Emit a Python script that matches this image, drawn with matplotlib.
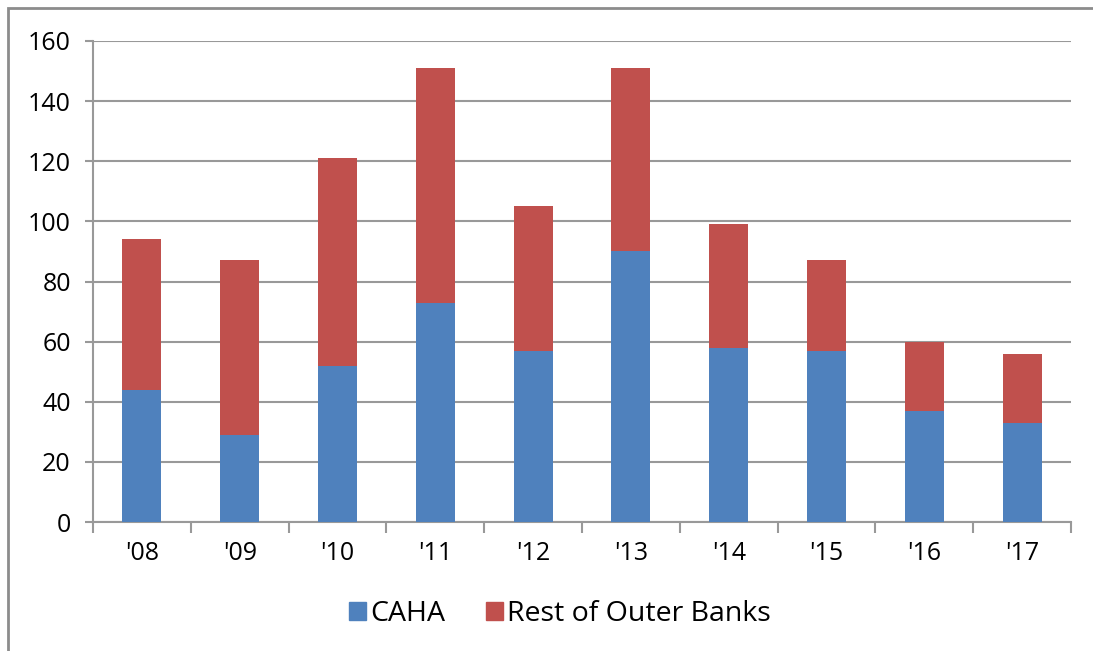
import matplotlib.pyplot as plt
from matplotlib.patches import Rectangle, Patch
import numpy as np

plt.rcParams['font.family'] = ['Open Sans', 'DejaVu Sans']

years = ["'08", "'09", "'10", "'11", "'12", "'13", "'14", "'15", "'16", "'17"]
caha = [44, 29, 52, 73, 57, 90, 58, 57, 37, 33]
rest = [50, 58, 69, 78, 48, 61, 41, 30, 23, 23]

blue = '#4F81BD'
red = '#C0504D'
grid = '#999999'

fig = plt.figure(figsize=(10.93, 6.51), dpi=100)
ax = fig.add_axes([93 / 1093, 1 - 522 / 651, (1071 - 93) / 1093, (522 - 41) / 651])

x = np.arange(len(years))
ax.bar(x, caha, width=0.4, color=blue, zorder=3)
ax.bar(x, rest, width=0.4, bottom=caha, color=red, zorder=3)

ax.set_xlim(-0.5, len(years) - 0.5)
ax.set_ylim(0, 160)
ax.set_yticks(range(0, 161, 20))
ax.yaxis.grid(True, color=grid, linewidth=1.5, zorder=0)
ax.set_axisbelow(True)

ax.set_xticks(x)
ax.set_xticklabels(years)
ax.set_xticks(np.arange(-0.5, len(years), 1), minor=True)
ax.tick_params(axis='x', which='major', length=0, pad=14, labelsize=18)
ax.tick_params(axis='x', which='minor', length=8, width=1.5, color=grid)
ax.tick_params(axis='y', length=6, width=1.5, color=grid, pad=10, labelsize=18)

for s in ['top', 'right']:
    ax.spines[s].set_visible(False)
for s in ['left', 'bottom']:
    ax.spines[s].set_color(grid)
    ax.spines[s].set_linewidth(1.5)

handles = [Patch(color=blue, label='CAHA'), Patch(color=red, label='Rest of Outer Banks')]
fig.legend(handles=handles, loc='center', bbox_to_anchor=(560 / 1093, 1 - 614 / 651),
           ncol=2, frameon=False, fontsize=20.5, handlelength=0.6, handleheight=0.6,
           handletextpad=0.15, columnspacing=1.4)

fig.patches.append(Rectangle((8 / 1093, -0.1), 1.2, 1 - 8 / 651 + 0.1,
                             transform=fig.transFigure, fill=False,
                             edgecolor='#8c8c8c', linewidth=2))

fig.savefig('out.png', dpi=100)
